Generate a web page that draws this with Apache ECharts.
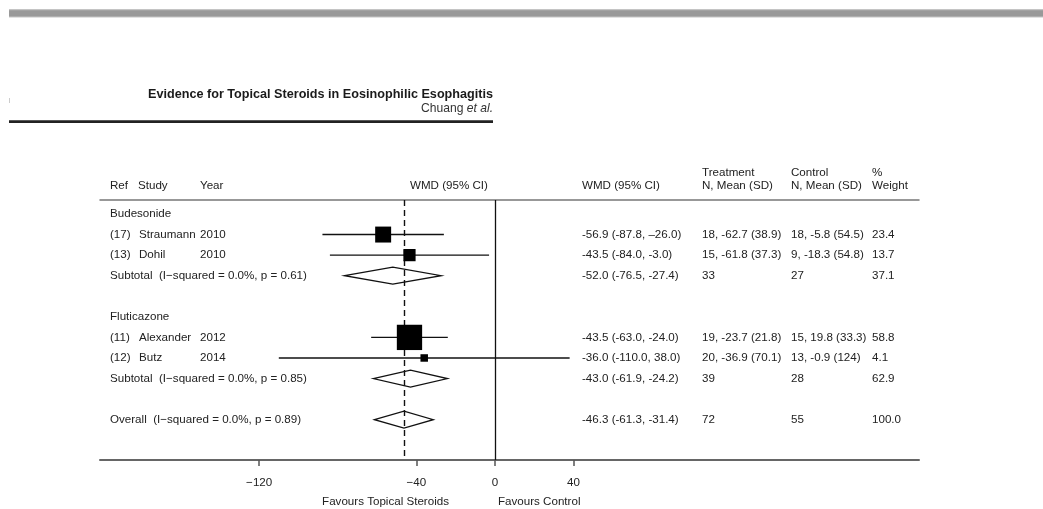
<!DOCTYPE html>
<html><head><meta charset="utf-8">
<script src="https://cdn.jsdelivr.net/npm/echarts@6/dist/echarts.min.js"></script>
<style>html,body{margin:0;padding:0;background:#fff}#c{width:1043px;height:509px}</style>
</head><body><div id="c"></div>
<script>
// ---------- data ----------
const groupNames = ['Budesonide', 'Fluticazone'];
const studyRefs = ['(17)', '(13)', '(11)', '(12)'];
const studyNames = ['Straumann', 'Dohil', 'Alexander', 'Butz'];
const studyYears = ['2010', '2010', '2012', '2014'];
const studyGroup = [0, 0, 1, 1];
const studyEst = [-56.9, -43.5, -43.5, -36.0];
const studyLo = [-87.8, -84.0, -63.0, -110.0];
const studyHi = [-26.0, -3.0, -24.0, 38.0];
const studyCIText = ['-56.9 (-87.8, \u201326.0)', '-43.5 (-84.0, -3.0)', '-43.5 (-63.0, -24.0)', '-36.0 (-110.0, 38.0)'];
const studyTreat = ['18, -62.7 (38.9)', '15, -61.8 (37.3)', '19, -23.7 (21.8)', '20, -36.9 (70.1)'];
const studyCtrl = ['18, -5.8 (54.5)', '9, -18.3 (54.8)', '15, 19.8 (33.3)', '13, -0.9 (124)'];
const studyWeight = [23.4, 13.7, 58.8, 4.1];

const subLabels = ['Subtotal  (I\u2212squared = 0.0%, p = 0.61)', 'Subtotal  (I\u2212squared = 0.0%, p = 0.85)'];
const subEst = [-52.0, -43.0];
const subLo = [-76.5, -61.9];
const subHi = [-27.4, -24.2];
const subCIText = ['-52.0 (-76.5, -27.4)', '-43.0 (-61.9, -24.2)'];
const subTreatN = ['33', '39'];
const subCtrlN = ['27', '28'];
const subWeight = ['37.1', '62.9'];

const overallLabel = 'Overall  (I\u2212squared = 0.0%, p = 0.89)';
const overallEst = -46.3, overallLo = -61.3, overallHi = -31.4;
const overallCIText = '-46.3 (-61.3, -31.4)';
const overallTreatN = '72', overallCtrlN = '55', overallWeight = '100.0';

const xTicks = [-120, -40, 0, 40];
const titleText = 'Evidence for Topical Steroids in Eosinophilic Esophagitis';
const authorName = 'Chuang ', authorEtAl = 'et al.';
const headerTop = [['Treatment', 702], ['Control', 791], ['%', 872]];
const headerBottom = [['Ref', 110], ['Study', 138], ['Year', 200], ['WMD (95% CI)', 410], ['WMD (95% CI)', 582], ['N, Mean (SD)', 702], ['N, Mean (SD)', 791], ['Weight', 872]];

// ---------- build rows ----------
const rows = [];
groupNames.forEach((g, gi) => {
  rows.push({kind: 'group', i: gi});
  studyGroup.forEach((sg, si) => { if (sg === gi) rows.push({kind: 'study', i: si}); });
  rows.push({kind: 'sub', i: gi});
  rows.push({kind: 'blank', i: 0});
});
rows.push({kind: 'overall', i: 0});

const studyData = [], diamondData = [], textData = [];
rows.forEach((r, ri) => {
  textData.push([0, ri]);
  if (r.kind === 'study') studyData.push([studyEst[r.i], studyLo[r.i], studyHi[r.i], ri, studyWeight[r.i]]);
  if (r.kind === 'sub') diamondData.push([subEst[r.i], subLo[r.i], subHi[r.i], ri]);
  if (r.kind === 'overall') diamondData.push([overallEst, overallLo, overallHi, ri]);
});

const FAM = '"Liberation Sans", Arial, sans-serif';
const FONT = '11.6px ' + FAM;
const TXT = '#222';
const COL = {a: 110, name: 139, year: 200, ci: 582, tr: 702, ct: 791, w: 872};

function rowTexts(r) {
  if (r.kind === 'group') return [[COL.a, groupNames[r.i]]];
  if (r.kind === 'study') return [[COL.a, studyRefs[r.i]], [COL.name, studyNames[r.i]], [COL.year, studyYears[r.i]],
    [COL.ci, studyCIText[r.i]], [COL.tr, studyTreat[r.i]], [COL.ct, studyCtrl[r.i]], [COL.w, String(studyWeight[r.i])]];
  if (r.kind === 'sub') return [[COL.a, subLabels[r.i]], [COL.ci, subCIText[r.i]], [COL.tr, subTreatN[r.i]], [COL.ct, subCtrlN[r.i]], [COL.w, subWeight[r.i]]];
  if (r.kind === 'overall') return [[COL.a, overallLabel], [COL.ci, overallCIText], [COL.tr, overallTreatN], [COL.ct, overallCtrlN], [COL.w, overallWeight]];
  return [];
}

// condensed look: measure and squeeze horizontally
const mctx = document.createElement('canvas').getContext('2d');
function measure(font, text) { mctx.font = font; return mctx.measureText(text).width; }
const TITLE_FONT = 'bold 13.5px ' + FAM;
const AUTH_FONT = '13.5px ' + FAM;
const AUTH_IT_FONT = 'italic 13.5px ' + FAM;
const titleScale = 345 / measure(TITLE_FONT, titleText);
const authScale = 72 / (measure(AUTH_FONT, authorName) + measure(AUTH_IT_FONT, authorEtAl));

const chart = echarts.init(document.getElementById('c'), null, {renderer: 'canvas'});

const graphics = [
  {type: 'rect', shape: {x: 9, y: 9, width: 1034, height: 8.5}, style: {fill: '#c4c4c4'}},
  {type: 'rect', shape: {x: 9, y: 10.2, width: 1034, height: 6.2}, style: {fill: '#999'}},
  {type: 'rect', shape: {x: 9, y: 98, width: 1, height: 5}, style: {fill: '#ccc'}},
  {type: 'text', x: 493, y: 94, scaleX: titleScale, originX: 0, style: {text: titleText, font: TITLE_FONT, fill: '#1a1a1a', textAlign: 'right', textVerticalAlign: 'middle'}},
  {type: 'text', x: 493, y: 108, scaleX: authScale, originX: 0, style: {text: '{n|' + authorName + '}{i|' + authorEtAl + '}', rich: {n: {font: AUTH_FONT, fill: '#333'}, i: {font: AUTH_IT_FONT, fill: '#333'}}, textAlign: 'right', textVerticalAlign: 'middle'}},
  {type: 'rect', shape: {x: 9, y: 120.3, width: 484, height: 2.6}, style: {fill: '#222'}},
  {type: 'text', x: 449, y: 502, style: {text: 'Favours Topical Steroids', font: FONT, fill: TXT, textAlign: 'right', textVerticalAlign: 'middle'}},
  {type: 'text', x: 498, y: 502, style: {text: 'Favours Control', font: FONT, fill: TXT, textAlign: 'left', textVerticalAlign: 'middle'}}
];
headerTop.forEach(h => graphics.push({type: 'text', x: h[1], y: 173, style: {text: h[0], font: FONT, fill: TXT, textVerticalAlign: 'middle'}}));
headerBottom.forEach(h => graphics.push({type: 'text', x: h[1], y: 186, style: {text: h[0], font: FONT, fill: TXT, textVerticalAlign: 'middle'}}));

chart.setOption({
  animation: false,
  grid: {left: 100, right: 124, top: 200, bottom: 49},
  xAxis: [{
    type: 'value', min: -201, max: 215.8, position: 'bottom',
    splitLine: {show: false},
    axisLine: {show: true, onZero: false, lineStyle: {color: '#666', width: 2}},
    axisTick: {show: true, customValues: xTicks, length: 6, lineStyle: {color: '#555', width: 1.5}},
    axisLabel: {show: true, customValues: xTicks, margin: 17, color: TXT, fontSize: 11.6, fontFamily: FAM,
      formatter: v => String(v).replace('-', '\u2212')}
  }, {
    type: 'value', min: -201, max: 215.8, position: 'top',
    splitLine: {show: false},
    axisLine: {show: true, onZero: false, lineStyle: {color: '#777', width: 1.5}},
    axisTick: {show: false}, axisLabel: {show: false}
  }],
  yAxis: {type: 'value', min: -0.68, max: 11.96, inverse: true, show: false},
  graphic: graphics,
  series: [
    {
      type: 'custom', name: 'studies', data: studyData, z: 5,
      renderItem: (params, api) => {
        const y = api.coord([0, api.value(3)])[1];
        const xe = api.coord([api.value(0), 0])[0];
        const xl = api.coord([api.value(1), 0])[0];
        const xh = api.coord([api.value(2), 0])[0];
        const s = Math.max(7.5, 3.3 * Math.sqrt(api.value(4)));
        return {type: 'group', children: [
          {type: 'line', shape: {x1: xl, y1: y, x2: xh, y2: y}, style: {stroke: '#111', lineWidth: 1.4}},
          {type: 'rect', shape: {x: xe - s / 2, y: y - s / 2, width: s, height: s}, style: {fill: '#000'}}
        ]};
      }
    },
    {
      type: 'custom', name: 'diamonds', data: diamondData, z: 5,
      renderItem: (params, api) => {
        const y = api.coord([0, api.value(3)])[1];
        const xe = api.coord([api.value(0), 0])[0];
        const xl = api.coord([api.value(1), 0])[0];
        const xh = api.coord([api.value(2), 0])[0];
        const h = 8.5;
        return {type: 'polygon', shape: {points: [[xl, y], [xe, y - h], [xh, y], [xe, y + h]]},
          style: {fill: 'rgba(255,255,255,0)', stroke: '#111', lineWidth: 1.3}};
      },
      markLine: {
        silent: true, symbol: 'none', label: {show: false},
        data: [
          {xAxis: 0, lineStyle: {color: '#111', width: 1.3, type: 'solid'}},
          {xAxis: overallEst, lineStyle: {color: '#111', width: 1.4, type: [6, 4]}}
        ]
      }
    },
    {
      type: 'custom', name: 'text', data: textData, z: 6, clip: false,
      renderItem: (params, api) => {
        const ri = api.value(1);
        const y = api.coord([0, ri])[1];
        const items = rowTexts(rows[ri]);
        return {type: 'group', children: items.map(t => ({
          type: 'text', x: t[0], y: y,
          style: {text: t[1], font: FONT, fill: TXT, textAlign: 'left', textVerticalAlign: 'middle'}
        }))};
      }
    }
  ]
});
</script></body></html>
